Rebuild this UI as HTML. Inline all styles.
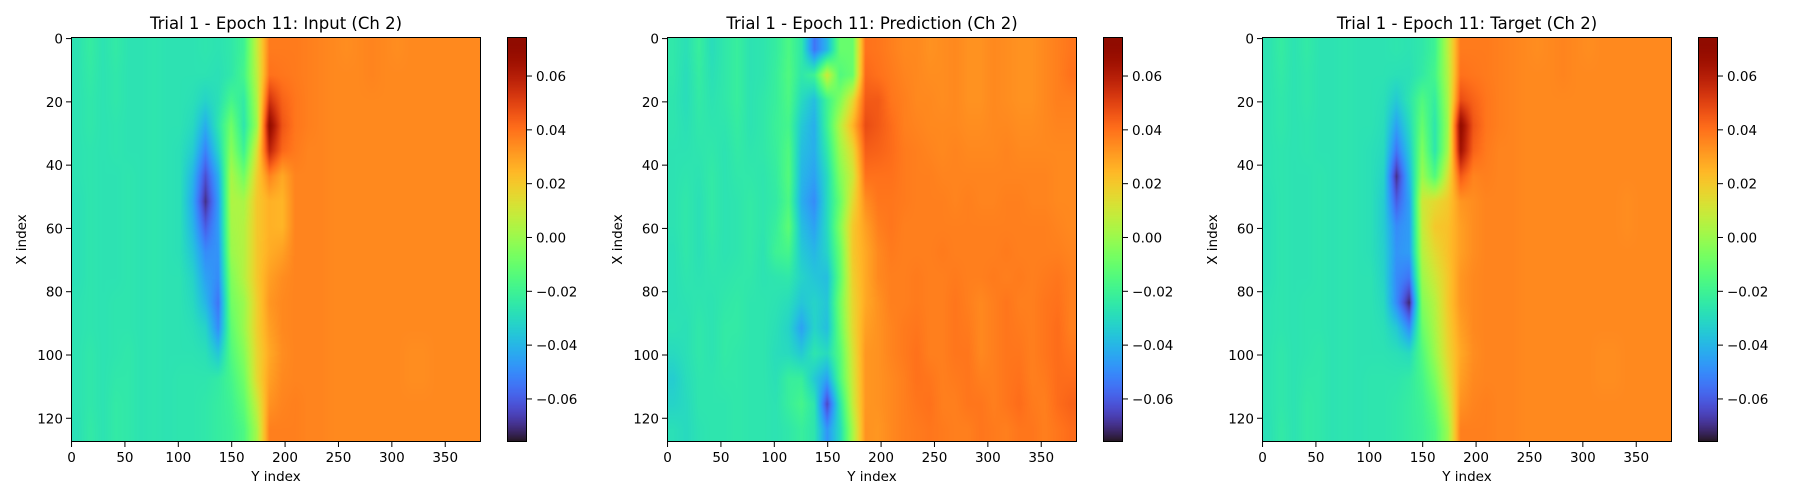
<!DOCTYPE html>
<html><head><meta charset="utf-8">
<style>
html,body{margin:0;padding:0;background:#fff;}
#fig{position:relative;width:1800px;height:500px;overflow:hidden;background:#fff;font-family:"Liberation Sans","DejaVu Sans",sans-serif;}
canvas{position:absolute;display:block;}
svg{position:absolute;left:0;top:0;}
text{font-family:"DejaVu Sans","Liberation Sans",sans-serif;fill:#000;}
</style></head>
<body>
<div id="fig">
<svg id="ov" width="1800" height="500"></svg>
</div>
<script>
// ---- data (values in hundredths; grid 16 rows (X) x 32 cols (Y), cell = 8 X x 12 Y) ----
const titles = ["Trial 1 - Epoch 11: Input (Ch 2)","Trial 1 - Epoch 11: Prediction (Ch 2)","Trial 1 - Epoch 11: Target (Ch 2)"];
const xTicks = [0,50,100,150,200,250,300,350];
const yTicks = [0,20,40,60,80,100,120];
const cbTicks = [-0.06,-0.04,-0.02,0.00,0.02,0.04,0.06];
const cbTickLabels = ["\u22120.06","\u22120.04","\u22120.02","0.00","0.02","0.04","0.06"];
const vmin = -0.076, vmax = 0.0745;
const nY = 384, nX = 128;

const inputGrid = [
[-2.7,-2.3,-2.7,-2.4,-2.7,-2.7,-2.6,-2.7,-2.7,-2.7,-2.6,-2.7,-2.5,-2.0,0.8,3.8,3.8,3.8,3.7,3.6,3.5,3.4,3.5,3.6,3.5,3.4,3.5,3.5,3.5,3.5,3.5,3.5],
[-2.7,-2.4,-2.7,-2.5,-2.7,-2.7,-2.6,-2.7,-2.7,-2.7,-2.7,-2.8,-2.5,-1.8,0.6,4.0,3.9,3.8,3.7,3.6,3.5,3.5,3.5,3.6,3.5,3.5,3.5,3.5,3.5,3.5,3.5,3.5],
[-2.7,-2.5,-2.7,-2.5,-2.7,-2.7,-2.6,-2.7,-2.7,-2.8,-3.2,-2.8,-1.8,-2.4,0.3,5.4,4.3,3.9,3.7,3.6,3.5,3.5,3.5,3.5,3.5,3.5,3.5,3.5,3.5,3.5,3.5,3.5],
[-2.7,-2.5,-2.7,-2.6,-2.7,-2.7,-2.6,-2.7,-2.7,-3.0,-4.2,-2.6,-0.8,-2.6,0.0,7.0,4.6,3.9,3.7,3.6,3.5,3.5,3.5,3.5,3.5,3.5,3.5,3.5,3.5,3.5,3.5,3.5],
[-2.7,-2.6,-2.7,-2.6,-2.7,-2.7,-2.6,-2.7,-2.8,-3.4,-5.2,-3.2,-0.3,-2.0,1.2,5.8,4.2,3.8,3.6,3.6,3.5,3.5,3.5,3.5,3.5,3.5,3.5,3.5,3.5,3.5,3.5,3.5],
[-2.7,-2.6,-2.7,-2.7,-2.6,-2.7,-2.6,-2.7,-2.8,-4.0,-6.3,-4.2,0.3,-0.8,1.8,3.6,2.8,3.6,3.6,3.6,3.5,3.5,3.5,3.5,3.5,3.5,3.5,3.5,3.5,3.5,3.5,3.5],
[-2.8,-2.6,-2.7,-2.7,-2.6,-2.7,-2.6,-2.7,-2.8,-4.3,-7.0,-4.6,0.4,0.3,2.0,2.6,2.5,3.6,3.6,3.6,3.5,3.5,3.5,3.5,3.5,3.5,3.5,3.5,3.5,3.5,3.5,3.5],
[-2.8,-2.6,-2.7,-2.7,-2.6,-2.7,-2.6,-2.7,-2.8,-4.0,-6.0,-4.6,0.2,0.5,2.0,2.6,2.5,3.6,3.6,3.6,3.5,3.5,3.5,3.5,3.5,3.5,3.5,3.5,3.5,3.5,3.5,3.5],
[-2.8,-2.6,-2.7,-2.7,-2.6,-2.7,-2.6,-2.7,-2.8,-3.6,-5.0,-4.8,0.0,0.5,2.0,2.7,3.0,3.6,3.6,3.6,3.5,3.5,3.5,3.5,3.5,3.5,3.5,3.5,3.5,3.5,3.5,3.5],
[-2.8,-2.6,-2.7,-2.7,-2.6,-2.7,-2.6,-2.7,-2.7,-3.2,-4.5,-5.0,-0.5,0.5,2.0,3.0,3.4,3.6,3.6,3.6,3.5,3.5,3.5,3.5,3.5,3.5,3.5,3.5,3.5,3.5,3.5,3.5],
[-2.7,-2.6,-2.7,-2.6,-2.6,-2.7,-2.6,-2.7,-2.7,-3.0,-4.0,-5.5,-0.8,0.0,1.8,3.2,3.5,3.6,3.6,3.6,3.5,3.5,3.5,3.5,3.5,3.5,3.5,3.5,3.5,3.5,3.5,3.5],
[-2.7,-2.6,-2.7,-2.6,-2.6,-2.7,-2.6,-2.7,-2.7,-2.8,-3.2,-5.0,-1.2,0.0,1.8,3.0,3.5,3.6,3.6,3.6,3.5,3.5,3.5,3.5,3.5,3.5,3.5,3.5,3.5,3.5,3.5,3.5],
[-2.7,-2.5,-2.7,-2.6,-2.5,-2.7,-2.6,-2.7,-2.7,-2.7,-2.8,-3.6,-1.5,-0.4,1.6,2.8,3.4,3.6,3.6,3.6,3.5,3.5,3.5,3.5,3.5,3.5,3.4,3.4,3.5,3.5,3.5,3.5],
[-2.7,-2.5,-2.7,-2.5,-2.5,-2.7,-2.6,-2.7,-2.6,-2.6,-2.6,-2.4,-1.8,-0.8,1.5,3.0,3.5,3.6,3.6,3.6,3.5,3.5,3.5,3.5,3.5,3.5,3.4,3.4,3.5,3.5,3.5,3.5],
[-2.7,-2.5,-2.7,-2.4,-2.5,-2.7,-2.6,-2.7,-2.6,-2.6,-2.5,-2.3,-2.0,-1.2,0.8,3.3,3.6,3.7,3.6,3.6,3.5,3.5,3.5,3.5,3.5,3.5,3.5,3.5,3.5,3.5,3.5,3.5],
[-2.8,-2.4,-2.7,-2.4,-2.5,-2.7,-2.6,-2.7,-2.6,-2.6,-2.5,-2.3,-2.1,-1.6,0.2,3.7,3.7,3.7,3.6,3.6,3.5,3.5,3.5,3.5,3.5,3.5,3.5,3.5,3.5,3.5,3.5,3.5]
];
const predGrid = [
[-2.5,-2.8,-2.2,-2.9,-2.5,-2.2,-2.7,-2.6,-2.3,-1.6,-2.5,-5.5,-4.0,-1.0,-1.0,4.0,3.9,3.7,3.5,3.5,3.3,3.4,3.5,3.3,3.3,3.5,3.4,3.3,3.3,3.5,3.7,3.9],
[-2.5,-2.9,-2.3,-2.8,-2.5,-2.2,-2.7,-2.6,-2.2,-1.5,-2.5,-2.0,1.0,-1.5,-1.0,4.2,4.0,3.8,3.6,3.5,3.4,3.4,3.5,3.3,3.3,3.5,3.4,3.3,3.3,3.5,3.7,4.0],
[-2.6,-2.9,-2.4,-2.7,-2.5,-2.2,-2.7,-2.5,-2.2,-1.6,-3.0,-3.8,-2.0,-0.5,1.5,4.5,4.5,3.9,3.7,3.5,3.5,3.4,3.5,3.3,3.3,3.5,3.4,3.3,3.3,3.5,3.7,3.7],
[-2.6,-2.8,-2.5,-2.6,-2.6,-2.3,-2.7,-2.5,-2.1,-1.8,-3.5,-4.2,-2.0,0.5,2.5,4.8,4.5,4.1,3.7,3.6,3.5,3.5,3.5,3.4,3.4,3.5,3.5,3.4,3.4,3.5,3.6,3.6],
[-2.7,-2.7,-2.6,-2.5,-2.7,-2.4,-2.6,-2.5,-2.2,-1.5,-3.8,-4.2,-2.5,0.0,1.5,4.4,4.3,4.1,3.8,3.7,3.6,3.5,3.6,3.5,3.5,3.5,3.6,3.5,3.5,3.5,3.5,3.5],
[-2.7,-2.6,-2.7,-2.4,-2.7,-2.5,-2.5,-2.6,-2.3,-1.4,-4.0,-4.5,-3.0,-0.5,1.0,4.0,4.0,4.0,3.8,3.7,3.7,3.6,3.6,3.6,3.6,3.6,3.6,3.6,3.6,3.6,3.5,3.5],
[-2.7,-2.5,-2.8,-2.4,-2.7,-2.6,-2.4,-2.6,-2.4,-1.6,-4.2,-5.0,-3.0,-1.0,1.5,3.4,3.9,3.9,3.8,3.7,3.7,3.7,3.6,3.7,3.6,3.6,3.7,3.7,3.6,3.6,3.5,3.5],
[-2.7,-2.5,-2.8,-2.4,-2.7,-2.6,-2.4,-2.6,-2.2,-1.2,-3.8,-4.5,-3.0,-0.5,2.0,3.0,3.7,3.9,3.7,3.7,3.7,3.7,3.7,3.7,3.7,3.7,3.7,3.7,3.7,3.7,3.6,3.5],
[-2.8,-2.5,-2.8,-2.5,-2.7,-2.6,-2.4,-2.7,-2.0,-1.8,-3.5,-4.0,-3.2,-1.0,2.0,2.8,3.5,3.8,3.7,3.7,3.7,3.8,3.7,3.7,3.7,3.7,3.8,3.7,3.7,3.7,3.7,3.6],
[-2.8,-2.6,-2.7,-2.6,-2.6,-2.5,-2.5,-2.7,-2.6,-2.5,-3.2,-3.6,-3.8,-1.2,1.8,2.8,3.5,3.7,3.7,3.8,3.7,3.7,3.8,3.7,3.7,3.8,3.7,3.8,3.7,3.8,3.9,3.7],
[-2.8,-2.7,-2.6,-2.7,-2.5,-2.4,-2.6,-2.6,-2.7,-2.9,-3.6,-3.2,-3.6,-0.8,1.6,2.8,3.3,3.7,3.7,3.8,3.7,3.7,3.9,3.7,3.5,3.7,3.9,3.7,3.7,3.9,4.0,3.7],
[-2.7,-2.8,-2.5,-2.7,-2.4,-2.4,-2.6,-2.6,-2.8,-3.2,-4.5,-3.2,-3.8,-1.0,1.5,3.0,3.3,3.6,3.8,3.9,3.7,3.7,3.9,3.8,3.5,3.7,3.9,3.8,3.7,3.9,4.1,3.7],
[-3.0,-2.8,-2.5,-2.7,-2.4,-2.5,-2.6,-2.6,-2.9,-3.0,-3.5,-2.6,-3.0,-1.4,1.2,3.2,3.3,3.6,3.8,4.0,3.7,3.7,3.9,3.9,3.5,3.7,3.9,3.9,3.7,3.9,4.1,3.9],
[-3.4,-2.9,-2.6,-2.6,-2.5,-2.5,-2.6,-2.6,-2.8,-2.2,-2.2,-3.5,-4.5,-1.6,1.0,3.2,3.3,3.5,3.7,4.0,3.9,3.7,3.8,3.9,3.7,3.7,3.9,4.0,3.7,3.8,4.1,4.1],
[-3.2,-3.0,-2.6,-2.6,-2.6,-2.5,-2.6,-2.6,-2.7,-2.2,-1.8,-2.6,-6.5,-2.6,0.8,3.2,3.3,3.5,3.7,3.9,4.0,3.7,3.7,3.9,3.9,3.7,3.9,4.1,3.8,3.7,4.1,4.3],
[-2.8,-3.0,-2.7,-2.6,-2.6,-2.5,-2.6,-2.6,-2.7,-2.5,-2.2,-2.6,-4.8,-3.0,0.2,3.3,3.2,3.5,3.7,3.8,3.9,3.8,3.7,3.7,3.9,3.8,3.7,3.9,3.9,3.7,3.9,4.1]
];
const targetGrid = [
[-2.7,-2.3,-2.7,-2.4,-2.7,-2.7,-2.6,-2.7,-2.7,-2.7,-2.6,-2.7,-2.5,-2.0,0.6,3.8,3.8,3.8,3.7,3.6,3.5,3.4,3.5,3.6,3.5,3.4,3.5,3.5,3.5,3.5,3.5,3.5],
[-2.7,-2.4,-2.7,-2.5,-2.7,-2.7,-2.6,-2.7,-2.7,-2.7,-2.8,-2.8,-2.4,-1.8,0.4,4.0,3.9,3.8,3.7,3.6,3.5,3.5,3.5,3.6,3.5,3.5,3.5,3.5,3.5,3.5,3.5,3.5],
[-2.7,-2.5,-2.7,-2.5,-2.7,-2.7,-2.6,-2.7,-2.7,-2.8,-3.5,-2.6,-1.5,-2.3,0.2,4.8,4.3,3.9,3.7,3.6,3.5,3.5,3.5,3.5,3.5,3.5,3.5,3.5,3.5,3.5,3.5,3.5],
[-2.7,-2.5,-2.7,-2.6,-2.7,-2.7,-2.6,-2.7,-2.7,-2.9,-4.5,-3.0,-1.0,-2.6,0.0,7.0,4.6,3.9,3.7,3.6,3.5,3.5,3.5,3.5,3.5,3.5,3.5,3.5,3.5,3.5,3.5,3.5],
[-2.7,-2.6,-2.7,-2.6,-2.7,-2.7,-2.6,-2.7,-2.8,-3.0,-5.5,-3.5,-0.5,-2.6,0.2,6.5,4.3,3.8,3.6,3.6,3.5,3.5,3.5,3.5,3.5,3.5,3.5,3.5,3.5,3.5,3.5,3.5],
[-2.7,-2.6,-2.7,-2.7,-2.6,-2.7,-2.6,-2.7,-2.8,-3.2,-7.0,-4.0,0.0,-1.5,1.2,4.5,3.6,3.7,3.6,3.6,3.5,3.5,3.5,3.5,3.5,3.5,3.5,3.5,3.5,3.5,3.5,3.5],
[-2.8,-2.6,-2.7,-2.7,-2.6,-2.7,-2.6,-2.7,-2.8,-3.4,-6.0,-4.5,1.0,1.5,2.0,3.2,3.4,3.6,3.6,3.6,3.5,3.5,3.5,3.5,3.5,3.5,3.5,3.5,3.4,3.5,3.5,3.5],
[-2.8,-2.6,-2.7,-2.7,-2.6,-2.7,-2.6,-2.7,-2.8,-3.4,-5.0,-4.6,0.8,2.0,2.2,3.0,3.4,3.6,3.6,3.6,3.5,3.5,3.5,3.5,3.5,3.5,3.5,3.5,3.4,3.5,3.5,3.5],
[-2.8,-2.6,-2.7,-2.7,-2.6,-2.7,-2.6,-2.7,-2.8,-3.3,-4.8,-4.6,0.5,1.5,2.2,3.0,3.4,3.6,3.6,3.6,3.5,3.5,3.5,3.5,3.5,3.5,3.5,3.5,3.5,3.5,3.5,3.5],
[-2.8,-2.6,-2.7,-2.7,-2.6,-2.7,-2.6,-2.7,-2.7,-3.2,-5.0,-5.5,0.0,1.0,2.0,3.2,3.5,3.6,3.6,3.6,3.5,3.5,3.5,3.5,3.5,3.5,3.5,3.5,3.5,3.5,3.5,3.5],
[-2.7,-2.6,-2.7,-2.6,-2.6,-2.7,-2.6,-2.7,-2.7,-3.0,-5.0,-7.2,-0.5,0.5,2.0,3.2,3.5,3.6,3.6,3.6,3.5,3.5,3.5,3.5,3.5,3.5,3.5,3.5,3.5,3.5,3.5,3.5],
[-2.7,-2.6,-2.7,-2.6,-2.6,-2.7,-2.6,-2.7,-2.7,-2.8,-3.5,-5.0,-1.0,0.3,1.8,3.0,3.5,3.6,3.6,3.6,3.5,3.5,3.5,3.5,3.5,3.5,3.5,3.5,3.5,3.5,3.5,3.5],
[-2.7,-2.5,-2.7,-2.6,-2.5,-2.7,-2.6,-2.7,-2.7,-2.7,-2.8,-3.0,-1.5,0.0,1.6,2.8,3.4,3.6,3.6,3.6,3.5,3.5,3.5,3.5,3.5,3.5,3.4,3.4,3.5,3.5,3.5,3.5],
[-2.7,-2.5,-2.7,-2.5,-2.5,-2.7,-2.6,-2.7,-2.6,-2.6,-2.6,-2.4,-1.8,-0.6,1.2,3.0,3.5,3.6,3.6,3.6,3.5,3.5,3.5,3.5,3.5,3.5,3.4,3.4,3.5,3.5,3.5,3.5],
[-2.7,-2.5,-2.7,-2.4,-2.5,-2.7,-2.6,-2.7,-2.6,-2.6,-2.5,-2.3,-2.0,-1.2,0.6,3.3,3.6,3.7,3.6,3.6,3.5,3.5,3.5,3.5,3.5,3.5,3.5,3.5,3.5,3.5,3.5,3.5],
[-2.8,-2.4,-2.7,-2.4,-2.5,-2.7,-2.6,-2.7,-2.6,-2.6,-2.5,-2.3,-2.1,-1.6,0.0,3.7,3.7,3.7,3.6,3.6,3.5,3.5,3.5,3.5,3.5,3.5,3.5,3.5,3.5,3.5,3.5,3.5]
];
const grids = [inputGrid, predGrid, targetGrid];
const panelKeys = ["input","prediction","target"];

// ---- layout ----
const L = [71, 667, 1262], T = 37, W = 410, H = 405;
const CBOFF = 436, CBW = 20;

function turbo(x){
  x = Math.max(0, Math.min(1, x));
  const r = 0.13572138 + x*(4.61539260 + x*(-42.66032258 + x*(132.13108234 + x*(-152.94239396 + x*59.28637943))));
  const g = 0.09140261 + x*(2.19418839 + x*(4.84296658 + x*(-14.18503333 + x*(4.27729857 + x*2.82956604))));
  const b = 0.10667330 + x*(12.64194608 + x*(-60.58204836 + x*(110.36276771 + x*(-89.90310912 + x*27.34824973))));
  const c = v => Math.round(Math.max(0, Math.min(1, v))*255);
  return [c(r), c(g), c(b)];
}
function norm(v){ return (v - vmin) / (vmax - vmin); }
function xScale(p, yIdx){ return L[p] + (yIdx + 0.5) / nY * W; }
function yScale(xIdx){ return T + (xIdx + 0.5) / nX * H; }
function cbScale(v){ return T + (vmax - v) / (vmax - vmin) * H; }

const fig = document.getElementById('fig');
const NS = 'http://www.w3.org/2000/svg';
const ov = document.getElementById('ov');
function mk(tag, attrs, parent){
  const e = document.createElementNS(NS, tag);
  for (const k in attrs) e.setAttribute(k, attrs[k]);
  (parent || ov).appendChild(e);
  return e;
}

function sample(grid, Y, X){
  const rows = grid.length, cols = grid[0].length;
  const cw = nY / cols, rh = nX / rows;
  let fc = (Y - (cw/2 - 0.5)) / cw, fr = (X - (rh/2 - 0.5)) / rh;
  fc = Math.max(0, Math.min(cols - 1, fc)); fr = Math.max(0, Math.min(rows - 1, fr));
  const c0 = Math.floor(fc), r0 = Math.floor(fr);
  const c1 = Math.min(cols - 1, c0 + 1), r1 = Math.min(rows - 1, r0 + 1);
  const tc = fc - c0, tr = fr - r0;
  const a = grid[r0][c0]*(1-tc) + grid[r0][c1]*tc;
  const b = grid[r1][c0]*(1-tc) + grid[r1][c1]*tc;
  return (a*(1-tr) + b*tr) / 100;
}

for (let p = 0; p < 3; p++){
  const grid = grids[p];
  const cv = document.createElement('canvas');
  cv.width = W; cv.height = H;
  cv.style.left = L[p] + 'px'; cv.style.top = T + 'px';
  
  
  fig.insertBefore(cv, ov);
  const ctx = cv.getContext('2d');
  const img = ctx.createImageData(W, H);
  for (let py = 0; py < H; py++){
    const X = (py + 0.5) / H * nX - 0.5;
    for (let px = 0; px < W; px++){
      const Y = (px + 0.5) / W * nY - 0.5;
      const col = turbo(norm(sample(grid, Y, X)));
      const i = (py*W + px)*4;
      img.data[i] = col[0]; img.data[i+1] = col[1]; img.data[i+2] = col[2]; img.data[i+3] = 255;
    }
  }
  ctx.putImageData(img, 0, 0);

  const cb = document.createElement('canvas');
  cb.width = CBW; cb.height = H;
  cb.style.left = (L[p] + CBOFF) + 'px'; cb.style.top = T + 'px';
  
  
  fig.insertBefore(cb, ov);
  const cctx = cb.getContext('2d');
  for (let py = 0; py < H; py++){
    const v = vmax - (py + 0.5) / H * (vmax - vmin);
    const c = turbo(norm(v));
    cctx.fillStyle = 'rgb(' + c.join(',') + ')';
    cctx.fillRect(0, py, CBW, 1);
  }

  const g = mk('g', {});
  
  
  const fr = mk('rect', {x: L[p]+0.5, y: T+0.5, width: W-1, height: H-1, fill: 'none', stroke: '#000', 'stroke-width': 1}, g);
  
  
  const cfr = mk('rect', {x: L[p]+CBOFF+0.5, y: T+0.5, width: CBW-1, height: H-1, fill: 'none', stroke: '#000', 'stroke-width': 1}, g);
  
  
  const tt = mk('text', {x: L[p] + W/2, y: 29, 'text-anchor': 'middle', 'font-size': '16.5px'}, g);
  tt.textContent = titles[p];
  
  
  xTicks.forEach(v => {
    const x = xScale(p, v);
    mk('line', {x1: x, x2: x, y1: T+H, y2: T+H+5, stroke: '#000', 'stroke-width': 1}, g);
    const t = mk('text', {x: x, y: T+H+20, 'text-anchor': 'middle', 'font-size': '13.5px'}, g);
    t.textContent = String(v);
    
    
  });
  yTicks.forEach(v => {
    const y = yScale(v);
    mk('line', {x1: L[p]-5, x2: L[p], y1: y, y2: y, stroke: '#000', 'stroke-width': 1}, g);
    const t = mk('text', {x: L[p]-8, y: y+5, 'text-anchor': 'end', 'font-size': '13.5px'}, g);
    t.textContent = String(v);
    
    
  });
  cbTicks.forEach((v, i) => {
    const y = cbScale(v);
    const x0 = L[p] + CBOFF + CBW;
    mk('line', {x1: x0, x2: x0+5, y1: y, y2: y, stroke: '#000', 'stroke-width': 1}, g);
    const t = mk('text', {x: x0+9, y: y+5, 'font-size': '13.5px'}, g);
    t.textContent = cbTickLabels[i];
    
    
  });
  const xl = mk('text', {x: L[p] + W/2, y: 481, 'text-anchor': 'middle', 'font-size': '13.5px'}, g);
  xl.textContent = 'Y index';
  
  
  const yx = L[p] - 45, yy = T + H/2;
  const yl = mk('text', {x: yx, y: yy, 'text-anchor': 'middle', 'font-size': '13.5px', transform: 'rotate(-90 ' + yx + ' ' + yy + ')'}, g);
  yl.textContent = 'X index';
  
  
}
</script>
</body></html>
